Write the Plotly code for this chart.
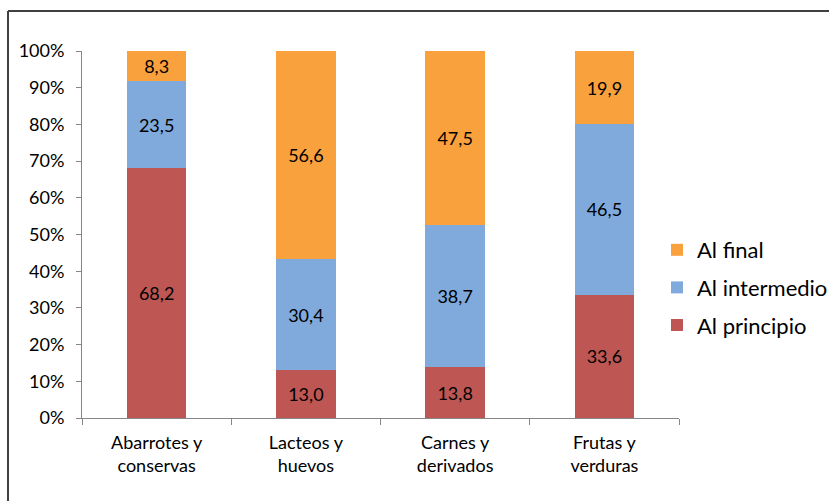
import plotly.graph_objects as go

categories = ["Abarrotes y<br>conservas", "Lacteos y<br>huevos", "Carnes y<br>derivados", "Frutas y<br>verduras"]
al_principio = [68.2, 13.0, 13.8, 33.6]
al_intermedio = [23.5, 30.4, 38.7, 46.5]
al_final = [8.3, 56.6, 47.5, 19.9]
y_ticks = [0, 10, 20, 30, 40, 50, 60, 70, 80, 90, 100]
y_tick_labels = ["0%", "10%", "20%", "30%", "40%", "50%", "60%", "70%", "80%", "90%", "100%"]

FONT = "Lato"
W, H = 829, 501
ML, MR, MT, MB = 82, 150, 51, 83
PW = W - ML - MR
PH = H - MT - MB

def px(x):
    return (x - ML) / PW

def py(y):
    return (H - MB - y) / PH

fig = go.Figure()
series = [
    ("Al principio", al_principio, "#BE5753", 3),
    ("Al intermedio", al_intermedio, "#7FAADB", 2),
    ("Al final", al_final, "#F8A13D", 1),
]
for name, vals, col, rank in series:
    fig.add_trace(go.Bar(
        x=categories, y=vals, name=name, marker_color=col, marker_line_width=0,
        texttemplate="%{y:.1f}", textposition="inside", insidetextanchor="middle",
        textfont=dict(family=FONT, size=18, color="#000000"),
        legendgroup=name, legendrank=rank, hoverinfo="skip",
    ))

fig.update_layout(
    width=W, height=H, barmode="stack", bargap=0.6,
    separators=",.",
    margin=dict(l=ML, r=MR, t=MT, b=MB, autoexpand=False),
    paper_bgcolor="white", plot_bgcolor="white",
    font=dict(family=FONT, size=18, color="#000000"),
    legend=dict(
        xref="container", yref="container",
        x=657 / W, y=1 - 229 / H, xanchor="left", yanchor="top",
        traceorder="grouped", tracegroupgap=6,
        font=dict(family=FONT, size=22, color="#000000"),
        itemwidth=30, bgcolor="rgba(0,0,0,0)",
    ),
    xaxis=dict(
        showline=True, linecolor="#868686", linewidth=1,
        ticks="outside", tickson="boundaries", ticklen=6, tickcolor="#868686",
        tickfont=dict(family=FONT, size=18), showgrid=False,
        ticklabelstandoff=8,
    ),
    yaxis=dict(
        range=[0, 100], tickvals=y_ticks, ticktext=y_tick_labels,
        showline=True, linecolor="#868686", linewidth=1,
        ticks="outside", ticklen=5, tickcolor="#868686",
        tickfont=dict(family=FONT, size=18), showgrid=False, zeroline=False,
        ticklabelstandoff=8,
    ),
    shapes=[
        dict(type="line", xref="paper", yref="paper", x0=px(8), x1=px(829), y0=py(11), y1=py(11),
             line=dict(color="#404040", width=2)),
        dict(type="line", xref="paper", yref="paper", x0=px(8), x1=px(8), y0=py(11), y1=py(501),
             line=dict(color="#404040", width=2)),
    ],
)

fig.write_html("out.html", config={"displayModeBar": False},
               post_script="document.body.style.margin='0';")
